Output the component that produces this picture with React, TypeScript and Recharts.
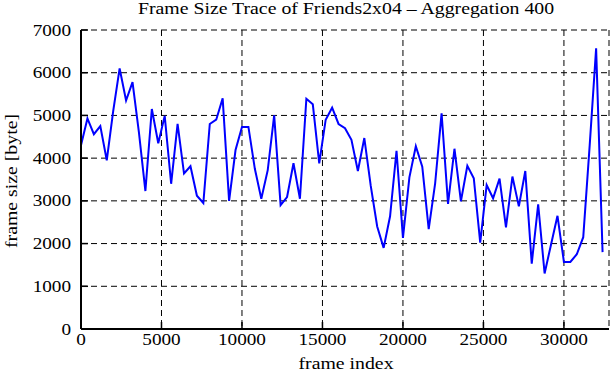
import { CartesianGrid, Line, LineChart, XAxis, YAxis } from "recharts";

const frameIndex = [
  0, 400, 800, 1200, 1600, 2000, 2400, 2800, 3200, 3600, 4000, 4400, 4800, 5200, 5600, 6000, 6400, 6800, 7200, 7600,
  8000, 8400, 8800, 9200, 9600, 10000, 10400, 10800, 11200, 11600, 12000, 12400, 12800, 13200, 13600, 14000, 14400,
  14800, 15200, 15600, 16000, 16400, 16800, 17200, 17600, 18000, 18400, 18800, 19200, 19600, 20000, 20400, 20800,
  21200, 21600, 22000, 22400, 22800, 23200, 23600, 24000, 24400, 24800, 25200, 25600, 26000, 26400, 26800, 27200,
  27600, 28000, 28400, 28800, 29200, 29600, 30000, 30400, 30800, 31200, 31600, 32000, 32400,
];

const frameSize = [
  4300, 4930, 4560, 4750, 3950, 5100, 6100, 5350, 5780, 4600, 3230, 5150, 4350, 4990, 3400, 4800, 3640, 3810, 3120,
  2950, 4800, 4900, 5400, 3000, 4190, 4730, 4730, 3750, 3050, 3720, 5000, 2900, 3090, 3880, 3050, 5390, 5260, 3880,
  4900, 5180, 4800, 4700, 4430, 3700, 4470, 3350, 2400, 1900, 2640, 4170, 2130, 3550, 4280, 3800, 2340, 3410, 5050,
  2930, 4220, 2990, 3820, 3530, 2020, 3370, 3060, 3520, 2380, 3570, 2870, 3700, 1530, 2920, 1300, 1980, 2650, 1570,
  1570, 1750, 2150, 4300, 6570, 1800,
];

const xTicks = [0, 5000, 10000, 15000, 20000, 25000, 30000];
const yTicks = [0, 1000, 2000, 3000, 4000, 5000, 6000, 7000];

const data = frameIndex.map((f, i) => ({ frame: f, size: frameSize[i] }));

const FONT = "'Liberation Serif', 'Times New Roman', serif";
const SX = 1.2;
const TICK = 7;

function BottomTick({ x, y, payload }: any) {
  return (
    <g>
      <line x1={x} y1={y} x2={x} y2={y - TICK} stroke="#000" strokeWidth={1.5} />
      <text
        transform={`translate(${x},${y + 16}) scale(${SX},1)`}
        textAnchor="middle"
        fontFamily={FONT}
        fontSize={16}
        fill="#000"
      >
        {payload.value}
      </text>
    </g>
  );
}

function LeftTick({ x, y, payload }: any) {
  return (
    <g>
      <line x1={x} y1={y} x2={x + TICK} y2={y} stroke="#000" strokeWidth={1.5} />
      <text
        transform={`translate(${x - 10},${y + 5.5}) scale(${SX},1)`}
        textAnchor="end"
        fontFamily={FONT}
        fontSize={16}
        fill="#000"
      >
        {payload.value}
      </text>
    </g>
  );
}

function TopTick({ x, y }: any) {
  return <line x1={x} y1={y} x2={x} y2={y + TICK} stroke="#000" strokeWidth={1.5} />;
}

function RightTick({ x, y }: any) {
  return <line x1={x} y1={y} x2={x - TICK} y2={y} stroke="#000" strokeWidth={1.5} />;
}

const frameLine = { stroke: "#000", strokeWidth: 2 };

export default function App() {
  return (
    <div style={{ position: "relative", width: 611, height: 380, background: "#fff" }}>
      <style>{"body{margin:0}"}</style>
      <LineChart width={611} height={380} data={data} margin={{ top: 30, right: 2, bottom: 0, left: 0 }}>
        <CartesianGrid stroke="#000" strokeWidth={1} strokeDasharray="6 4" />
        <XAxis
          dataKey="frame"
          type="number"
          domain={[0, 32800]}
          ticks={xTicks}
          height={51}
          tickSize={0}
          tickMargin={0}
          tickLine={false}
          axisLine={frameLine}
          tick={<BottomTick />}
          interval={0}
        />
        <XAxis
          xAxisId="top"
          orientation="top"
          dataKey="frame"
          type="number"
          domain={[0, 32800]}
          ticks={xTicks}
          height={0}
          tickSize={0}
          tickMargin={0}
          tickLine={false}
          axisLine={frameLine}
          tick={<TopTick />}
          interval={0}
        />
        <YAxis
          type="number"
          domain={[0, 7000]}
          ticks={yTicks}
          width={81}
          tickSize={0}
          tickMargin={0}
          tickLine={false}
          axisLine={frameLine}
          tick={<LeftTick />}
          interval={0}
        />
        <YAxis
          yAxisId="right"
          orientation="right"
          type="number"
          domain={[0, 7000]}
          ticks={yTicks}
          width={0}
          tickSize={0}
          tickMargin={0}
          tickLine={false}
          axisLine={frameLine}
          tick={<RightTick />}
          interval={0}
        />
        <Line
          dataKey="size"
          type="linear"
          stroke="#0000ff"
          strokeWidth={2}
          dot={false}
          isAnimationActive={false}
        />
      </LineChart>
      <svg
        width={611}
        height={380}
        style={{ position: "absolute", left: 0, top: 0, pointerEvents: "none" }}
      >
        <text transform={`translate(346,14) scale(${SX},1)`} textAnchor="middle" fontFamily={FONT} fontSize={16.5}>
          Frame Size Trace of Friends2x04 – Aggregation 400
        </text>
        <text transform={`translate(346,369) scale(${SX},1)`} textAnchor="middle" fontFamily={FONT} fontSize={16.5}>
          frame index
        </text>
        <text transform={`translate(17,181) rotate(-90) scale(${SX},1)`} textAnchor="middle" fontFamily={FONT} fontSize={16.5}>
          frame size [byte]
        </text>
      </svg>
    </div>
  );
}
